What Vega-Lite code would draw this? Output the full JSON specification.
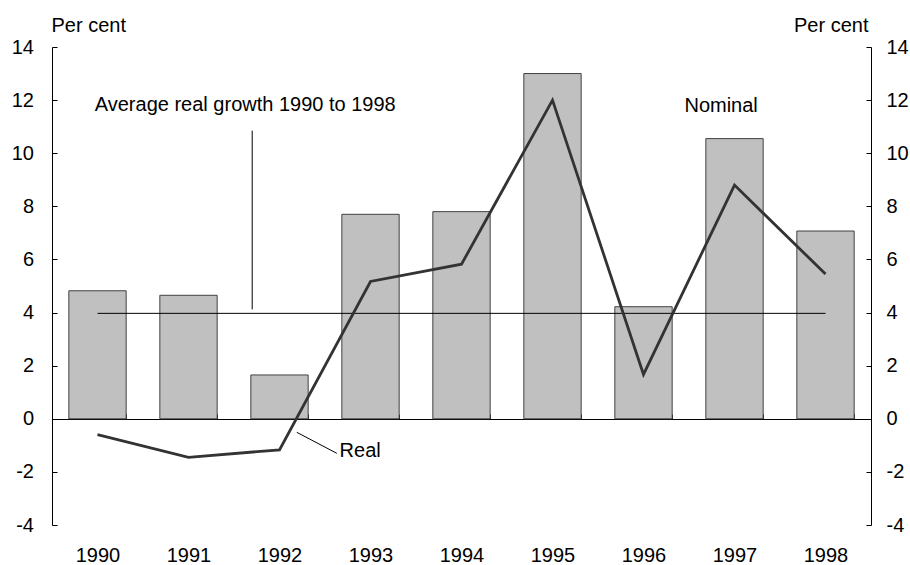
{
  "$schema": "https://vega.github.io/schema/vega-lite/v6.json",
  "width": 819,
  "height": 478,
  "autosize": {"type": "none"},
  "padding": {"left": 52, "top": 47, "right": 39, "bottom": 40},
  "background": "white",
  "config": {
    "view": {"stroke": null},
    "font": "Liberation Sans",
    "axis": {
      "domainColor": "black",
      "domainWidth": 1,
      "tickColor": "black",
      "tickWidth": 1,
      "labelColor": "black",
      "labelFont": "Liberation Sans",
      "labelFontSize": 20,
      "titleFont": "Liberation Sans",
      "titleFontSize": 20,
      "titleFontWeight": "normal",
      "titleColor": "black",
      "grid": false
    }
  },
  "datasets": {
    "growth": [
      {"year": "1990", "nominal": 4.82, "real": -0.6},
      {"year": "1991", "nominal": 4.65, "real": -1.45},
      {"year": "1992", "nominal": 1.65, "real": -1.17},
      {"year": "1993", "nominal": 7.7, "real": 5.17},
      {"year": "1994", "nominal": 7.8, "real": 5.82},
      {"year": "1995", "nominal": 13.0, "real": 12.0},
      {"year": "1996", "nominal": 4.22, "real": 1.67},
      {"year": "1997", "nominal": 10.55, "real": 8.8},
      {"year": "1998", "nominal": 7.07, "real": 5.45}
    ],
    "average": [
      {"start": "1990", "end": "1998", "value": 3.97}
    ],
    "labels": [
      {"text": "Average real growth 1990 to 1998", "x": 1989.97, "y": 11.6},
      {"text": "Nominal", "x": 1996.45, "y": 11.55},
      {"text": "Real", "x": 1992.66, "y": -1.43}
    ],
    "leaders": [
      {"x": 1991.7, "x2": 1991.7, "y": 10.85, "y2": 4.12},
      {"x": 1992.19, "x2": 1992.63, "y": -0.51, "y2": -1.3}
    ]
  },
  "layer": [
    {
      "data": {"name": "growth"},
      "mark": {"type": "bar", "fill": "#c0c0c0", "stroke": "#404040", "strokeWidth": 1},
      "encoding": {
        "x": {
          "field": "year", "type": "nominal", "sort": null,
          "scale": {"type": "band", "paddingInner": 0.37, "paddingOuter": 0.185},
          "axis": {
            "title": null, "orient": "bottom", "offset": -106,
            "tickBand": "extent", "tickSize": -5, "labelAngle": 0,
            "labelPadding": 131, "domain": true
          }
        },
        "y": {
          "field": "nominal", "type": "quantitative",
          "scale": {"domain": [-4, 14], "nice": false, "zero": false},
          "axis": {
            "orient": "left", "values": [-4, -2, 0, 2, 4, 6, 8, 10, 12, 14],
            "labelExpr": "datum.value < 0 ? '-' + abs(datum.value) : '' + datum.value",
            "tickSize": -5, "labelPadding": 23.5,
            "title": "Per cent", "titleAngle": 0, "titleAlign": "left",
            "titleBaseline": "alphabetic", "titleX": -1, "titleY": -16
          }
        }
      }
    },
    {
      "data": {"name": "average"},
      "mark": {"type": "rule", "color": "black", "strokeWidth": 1},
      "encoding": {
        "x": {"field": "start", "type": "nominal", "sort": null,
              "scale": {"type": "band", "paddingInner": 0.37, "paddingOuter": 0.185,
                        "domain": ["1990", "1991", "1992", "1993", "1994", "1995", "1996", "1997", "1998"]},
              "axis": null},
        "x2": {"field": "end"},
        "y": {"field": "value", "type": "quantitative", "scale": {"domain": [-4, 14], "nice": false, "zero": false}, "axis": null}
      }
    },
    {
      "data": {"name": "growth"},
      "mark": {"type": "line", "color": "#333333", "strokeWidth": 2.8},
      "encoding": {
        "x": {"field": "year", "type": "nominal", "sort": null,
              "scale": {"type": "band", "paddingInner": 0.37, "paddingOuter": 0.185},
              "axis": null},
        "y": {
          "field": "real", "type": "quantitative",
          "scale": {"domain": [-4, 14], "nice": false, "zero": false},
          "axis": {
            "orient": "right", "values": [-4, -2, 0, 2, 4, 6, 8, 10, 12, 14],
            "labelExpr": "datum.value < 0 ? '-' + abs(datum.value) : '' + datum.value",
            "tickSize": -5, "labelPadding": 20, "labelAlign": "left",
            "title": "Per cent", "titleAngle": 0, "titleAlign": "right",
            "titleBaseline": "alphabetic", "titleX": -3, "titleY": -16
          }
        }
      }
    },
    {
      "data": {"name": "leaders"},
      "mark": {"type": "rule", "color": "black", "strokeWidth": 1},
      "encoding": {
        "x": {"field": "x", "type": "quantitative", "scale": {"domain": [1989.5, 1998.5], "nice": false, "zero": false}, "axis": null},
        "x2": {"field": "x2"},
        "y": {"field": "y", "type": "quantitative", "scale": {"domain": [-4, 14], "nice": false, "zero": false}, "axis": null},
        "y2": {"field": "y2"}
      }
    },
    {
      "data": {"name": "labels"},
      "mark": {"type": "text", "align": "left", "baseline": "alphabetic", "fontSize": 20, "font": "Liberation Sans", "color": "black"},
      "encoding": {
        "x": {"field": "x", "type": "quantitative", "scale": {"domain": [1989.5, 1998.5], "nice": false, "zero": false}, "axis": null},
        "y": {"field": "y", "type": "quantitative", "scale": {"domain": [-4, 14], "nice": false, "zero": false}, "axis": null},
        "text": {"field": "text"}
      }
    }
  ],
  "resolve": {"scale": {"x": "independent"}, "axis": {"x": "independent", "y": "independent"}}
}
